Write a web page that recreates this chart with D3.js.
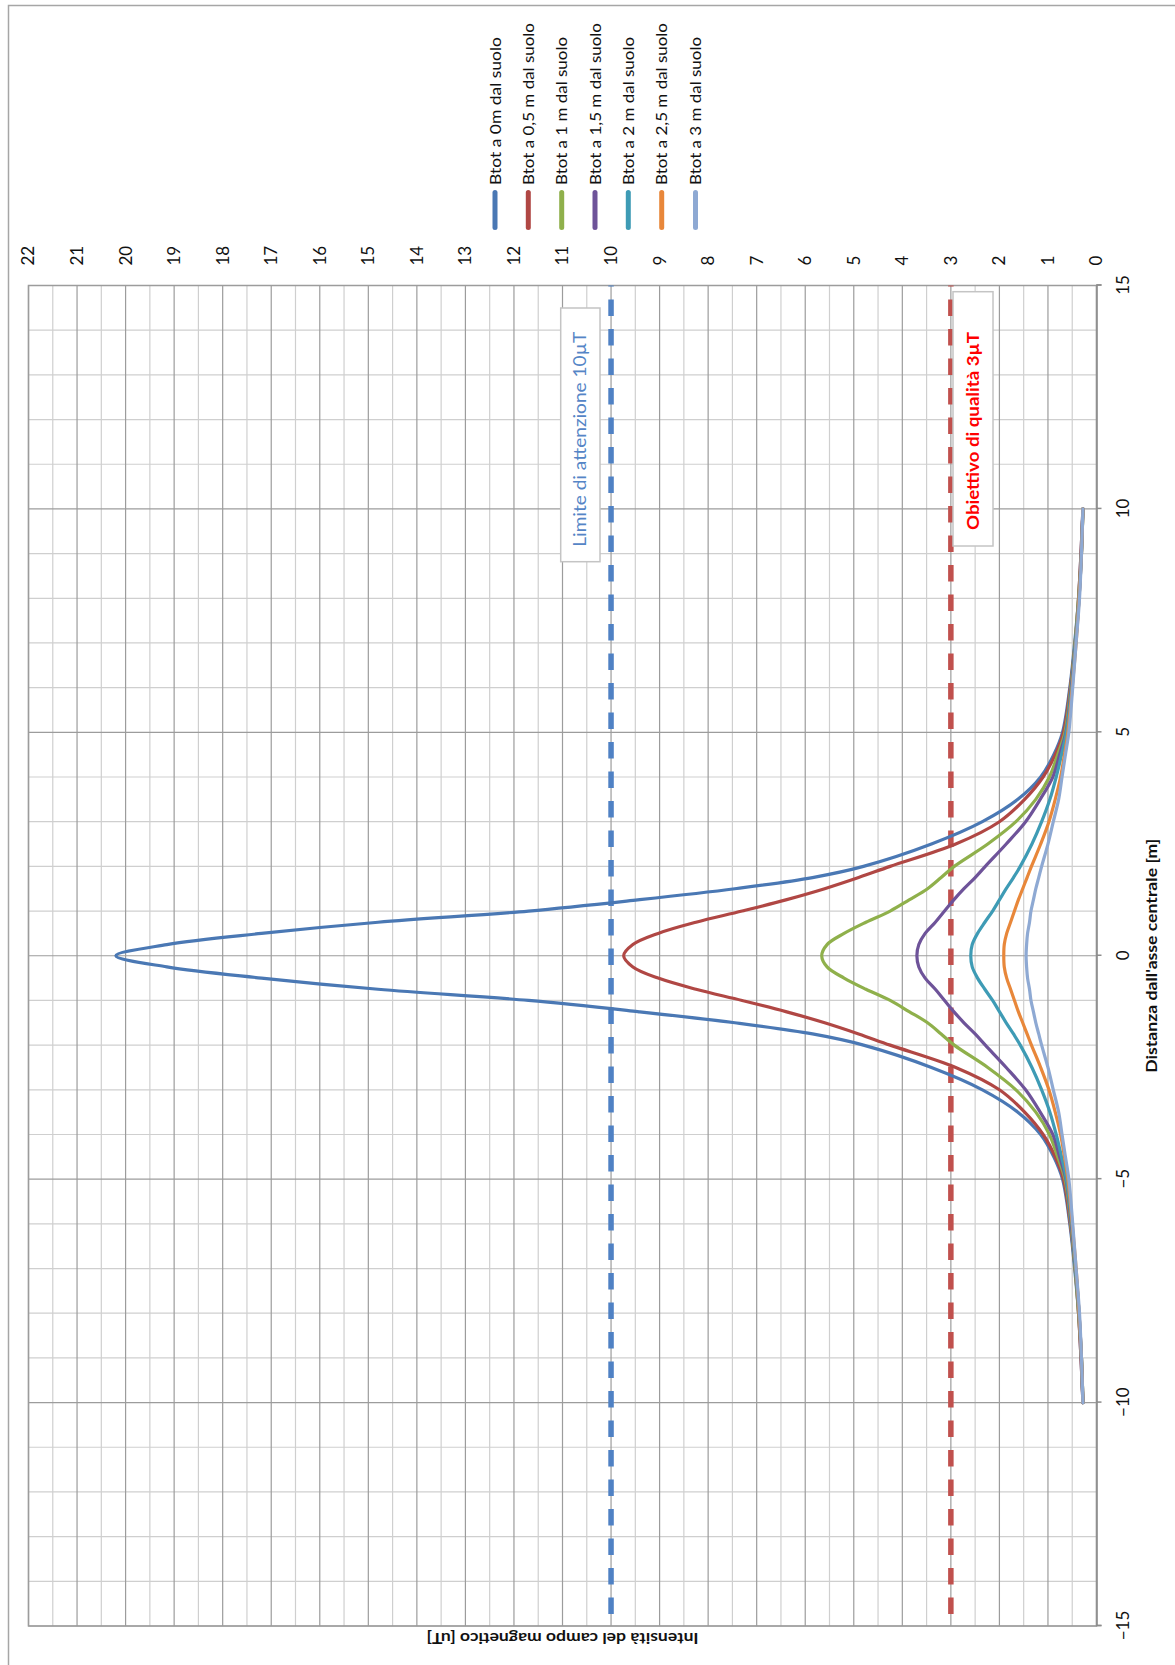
<!DOCTYPE html>
<html><head><meta charset="utf-8">
<script src="https://cdn.jsdelivr.net/npm/d3@7"></script>
<style>html,body{margin:0;padding:0;background:#fff}svg{display:block}</style>
</head><body>
<svg id="chart" width="1175" height="1665"></svg>
<script>
// ---------- data ----------
const distances = [-10,-9,-8,-7,-6,-5,-4.5,-4,-3.5,-3,-2.5,-2,-1.75,-1.5,-1.25,-1,-0.75,-0.5,-0.25,0,0.25,0.5,0.75,1,1.25,1.5,1.75,2,2.5,3,3.5,4,4.5,5,6,7,8,9,10];
const seriesNames = ["Btot a 0m dal suolo","Btot a 0,5 m dal suolo","Btot a 1 m dal suolo","Btot a 1,5 m dal suolo","Btot a 2 m dal suolo","Btot a 2,5 m dal suolo","Btot a 3 m dal suolo"];
const b0m  = [0.28,0.32,0.37,0.45,0.55,0.7,0.88,1.15,1.62,2.35,3.4,4.8,5.85,7.45,9.45,11.7,14.8,17.2,19.15,20.2,19.15,17.2,14.8,11.7,9.45,7.45,5.85,4.8,3.4,2.35,1.62,1.15,0.88,0.7,0.55,0.45,0.37,0.32,0.28];
const b05m = [0.28,0.32,0.37,0.44,0.54,0.68,0.85,1.1,1.48,2.0,2.9,4.25,4.9,5.6,6.4,7.3,8.25,9.03,9.55,9.74,9.55,9.03,8.25,7.3,6.4,5.6,4.9,4.25,2.9,2.0,1.48,1.1,0.85,0.68,0.54,0.44,0.37,0.32,0.28];
const b1m  = [0.28,0.31,0.37,0.44,0.53,0.65,0.8,0.97,1.25,1.66,2.24,2.93,3.2,3.48,3.86,4.25,4.75,5.2,5.55,5.66,5.55,5.2,4.75,4.25,3.86,3.48,3.2,2.93,2.24,1.66,1.25,0.97,0.8,0.65,0.53,0.44,0.37,0.31,0.28];
const b15m = [0.28,0.31,0.36,0.43,0.52,0.63,0.76,0.9,1.16,1.46,1.86,2.29,2.5,2.73,2.94,3.13,3.32,3.53,3.66,3.7,3.66,3.53,3.32,3.13,2.94,2.73,2.5,2.29,1.86,1.46,1.16,0.9,0.76,0.63,0.52,0.43,0.36,0.31,0.28];
const b2m  = [0.28,0.31,0.36,0.43,0.51,0.62,0.72,0.83,0.96,1.13,1.33,1.57,1.71,1.86,2.0,2.14,2.3,2.45,2.56,2.59,2.56,2.45,2.3,2.14,2.0,1.86,1.71,1.57,1.33,1.13,0.96,0.83,0.72,0.62,0.51,0.43,0.36,0.31,0.28];
const b25m = [0.28,0.31,0.36,0.42,0.5,0.59,0.66,0.74,0.85,0.98,1.15,1.34,1.43,1.52,1.61,1.69,1.77,1.85,1.9,1.91,1.9,1.85,1.77,1.69,1.61,1.52,1.43,1.34,1.15,0.98,0.85,0.74,0.66,0.59,0.5,0.42,0.36,0.31,0.28];
const b3m  = [0.28,0.31,0.35,0.42,0.49,0.57,0.64,0.71,0.78,0.89,1.0,1.13,1.19,1.25,1.3,1.35,1.38,1.42,1.44,1.45,1.44,1.42,1.38,1.35,1.3,1.25,1.19,1.13,1.0,0.89,0.78,0.71,0.64,0.57,0.49,0.42,0.35,0.31,0.28];
const seriesValues = [b0m,b05m,b1m,b15m,b2m,b25m,b3m];
const seriesColors = ["#4a78b4","#b04744","#8fb04b","#6e5399","#3e9bb5","#e8873a","#8ea9d3"];

const distanceDomain = [-15,15];
const intensityDomain = [0,22];
const distanceMajorTicks = [-15,-10,-5,0,5,10,15];
const distanceMinorTicks = d3.range(-15,16,1);
const intensityMajorTicks = d3.range(0,23,1);
const intensityMinorTicks = d3.range(0.5,22,1);

const refLines = [
  {value:10, label:"Limite di attenzione 10µT", color:"#4f81c4", text:"#5585c6", bold:false},
  {value:3,  label:"Obiettivo di qualità 3µT", color:"#c0504d", text:"#ff0000", bold:true}
];
const xTitle = "Distanza dall'asse  centrale [m]";
const yTitle = "Intensità del campo magnetico [uT]";

// ---------- layout ----------
const W = 1175, H = 1665;
const svg = d3.select("#chart");
const FONT = "Lato, 'Open Sans', 'DejaVu Sans', sans-serif";

// chart outer border (extends beyond the right/bottom edges)
svg.append("rect").attr("x",8.5).attr("y",5.5).attr("width",1300).attr("height",1800)
  .attr("fill","none").attr("stroke","#a6a6a6").attr("stroke-width",1.5);

// rotated frame: u (horizontal) -> screen up, v (vertical) -> screen right
const g = svg.append("g").attr("transform",`translate(0,${H}) rotate(-90)`);

const plot = {u0: H-1626, u1: H-285.5, v0: 28.5, v1: 1096.5};
const x = d3.scaleLinear().domain(distanceDomain).range([plot.u0, plot.u1]);
const y = d3.scaleLinear().domain(intensityDomain).range([plot.v1, plot.v0]);

// gridlines
const grid = g.append("g");
grid.selectAll(".ymin").data(intensityMinorTicks).join("line")
  .attr("x1",plot.u0).attr("x2",plot.u1).attr("y1",d=>y(d)).attr("y2",d=>y(d))
  .attr("stroke","#cfcfcf").attr("stroke-width",1.2);
grid.selectAll(".xmin").data(distanceMinorTicks.filter(d=>d%5!==0)).join("line")
  .attr("x1",d=>x(d)).attr("x2",d=>x(d)).attr("y1",plot.v0).attr("y2",plot.v1)
  .attr("stroke","#cfcfcf").attr("stroke-width",1.2);
grid.selectAll(".ymaj").data(intensityMajorTicks).join("line")
  .attr("x1",plot.u0).attr("x2",plot.u1).attr("y1",d=>y(d)).attr("y2",d=>y(d))
  .attr("stroke","#9c9c9c").attr("stroke-width",1.2);
grid.selectAll(".xmaj").data(distanceMajorTicks).join("line")
  .attr("x1",d=>x(d)).attr("x2",d=>x(d)).attr("y1",plot.v0).attr("y2",plot.v1)
  .attr("stroke","#9c9c9c").attr("stroke-width",1.2);
g.append("rect").attr("x",plot.u0).attr("y",plot.v0).attr("width",plot.u1-plot.u0).attr("height",plot.v1-plot.v0)
  .attr("fill","none").attr("stroke","#9c9c9c").attr("stroke-width",1.5);

// distance axis (original bottom -> screen right)
const xAxis = g.append("g").attr("transform",`translate(0,${plot.v1})`)
  .call(d3.axisBottom(x).tickValues(distanceMajorTicks).tickSize(5).tickPadding(15).tickFormat(d3.format("d")));
xAxis.select(".domain").attr("stroke","#8c8c8c").attr("stroke-width",1.5);
xAxis.selectAll(".tick line").attr("stroke","#8c8c8c").attr("stroke-width",1.5);
xAxis.selectAll("text").attr("font-family",FONT).attr("font-size",17).attr("fill","#111");

// intensity axis (original right -> screen top)
const yAxis = g.append("g").attr("transform",`translate(${plot.u1},0)`)
  .call(d3.axisRight(y).tickValues(intensityMajorTicks).tickSize(0).tickPadding(20).tickFormat(d3.format("d")));
yAxis.select(".domain").remove();
yAxis.selectAll("text").attr("font-family",FONT).attr("font-size",17).attr("fill","#111");

// reference lines
refLines.forEach(r=>{
  g.append("line").attr("x1",x(distanceDomain[1])).attr("x2",x(distanceDomain[0]))
    .attr("y1",y(r.value)).attr("y2",y(r.value))
    .attr("stroke",r.color).attr("stroke-width",5.5).attr("stroke-dasharray","16.5,13").attr("stroke-dashoffset",-14);
});

// curves (smoothed like Excel's smooth lines)
const line = d3.line().x((d,i)=>x(distances[i])).y(d=>y(d)).curve(d3.curveCatmullRom.alpha(0.5));
seriesValues.forEach((vals,k)=>{
  g.append("path").datum(vals).attr("d",line).attr("fill","none")
    .attr("stroke",seriesColors[k]).attr("stroke-width",3.2).attr("stroke-linecap","round").attr("stroke-linejoin","round");
});

// reference labels
const labelBoxes = [
  {ref:0, u0:H-561.7, u1:H-308, v0:560.7, v1:600, tu:H-546.7, len:215},
  {ref:1, u0:H-546,   u1:H-291.7, v0:953, v1:993, tu:H-530,  len:198}
];
labelBoxes.forEach(b=>{
  const r = refLines[b.ref];
  g.append("rect").attr("x",b.u0).attr("y",b.v0).attr("width",b.u1-b.u0).attr("height",b.v1-b.v0)
    .attr("fill","#fff").attr("stroke","#c4c4c4").attr("stroke-width",1.5);
  g.append("text").attr("x",b.tu).attr("y",(b.v0+b.v1)/2).attr("dy","0.36em")
    .attr("font-family",FONT).attr("font-size",17).attr("font-weight",r.bold?"bold":"normal")
    .attr("fill",r.text).attr("textLength",b.len).attr("lengthAdjust","spacingAndGlyphs").text(r.label);
});

// legend (original right side -> screen top)
const legendV = [495,528.3,561.7,595,628.3,661.7,695.5];
const legendLen = [148,162,148,162,148,162,148];
seriesNames.forEach((name,k)=>{
  g.append("line").attr("x1",H-227.5).attr("x2",H-192.5).attr("y1",legendV[k]).attr("y2",legendV[k])
    .attr("stroke",seriesColors[k]).attr("stroke-width",5).attr("stroke-linecap","round");
  g.append("text").attr("x",H-185).attr("y",legendV[k]).attr("dy","0.36em")
    .attr("font-family",FONT).attr("font-size",16).attr("fill","#111")
    .attr("textLength",legendLen[k]).attr("lengthAdjust","spacingAndGlyphs").text(name);
});

// axis titles
g.append("text").attr("x",x(0)).attr("y",1151.7).attr("dy","0.36em").attr("text-anchor","middle")
  .attr("font-family",FONT).attr("font-size",16).attr("font-weight","bold").attr("fill","#111")
  .attr("textLength",234).attr("lengthAdjust","spacingAndGlyphs").text(xTitle);
svg.append("text").attr("transform",`translate(${(plot.v0+plot.v1)/2},1638) rotate(180)`)
  .attr("dy","0.36em").attr("text-anchor","middle")
  .attr("font-family",FONT).attr("font-size",15).attr("font-weight","bold").attr("fill","#111")
  .attr("textLength",272).attr("lengthAdjust","spacingAndGlyphs").text(yTitle);
</script>
</body></html>
